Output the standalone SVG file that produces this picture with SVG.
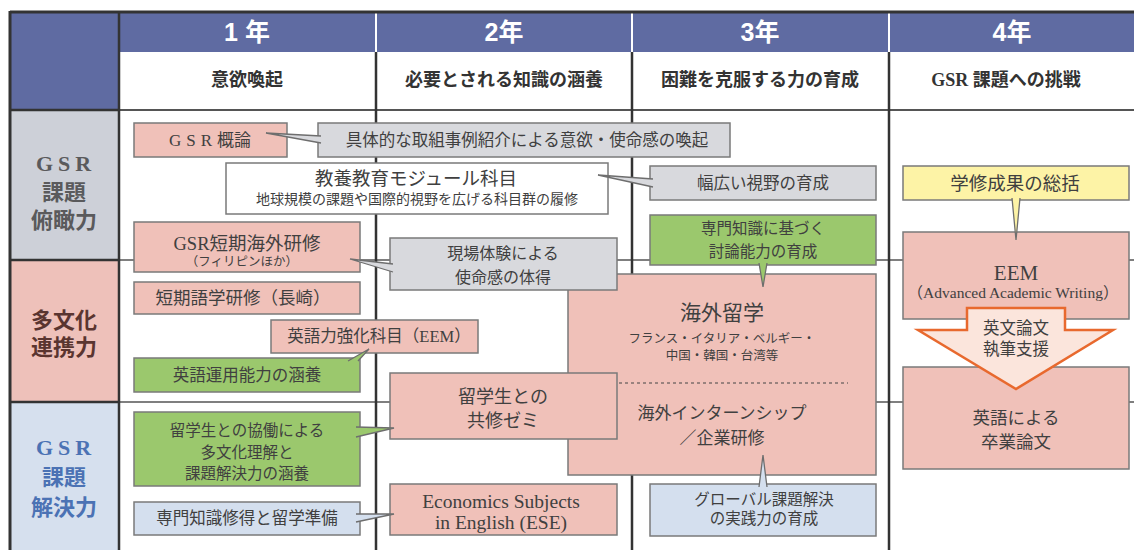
<svg xmlns="http://www.w3.org/2000/svg" width="1134" height="550" viewBox="0 0 1134 550">
<style>
.t{font-family:"Liberation Serif","Noto Sans CJK JP",serif;fill:#404040;text-anchor:middle}
.hd{font-family:"Liberation Sans","Noto Sans CJK JP",sans-serif;font-weight:bold;fill:#fff;text-anchor:middle;font-size:25px}
.sh{font-family:"Liberation Serif","Noto Sans CJK JP",serif;font-weight:bold;fill:#333;text-anchor:middle;font-size:18px}
.lb{font-family:"Liberation Serif","Noto Sans CJK JP",serif;font-weight:bold;text-anchor:middle;font-size:22px}
.bx{stroke:#7a7a7a;stroke-width:1.5}
.pk{fill:#f0c1b9}
.gy{fill:#d8d9dd}
.gr{fill:#9bc86d}
.lbu{fill:#d4dfee}
.yl{fill:#fdf3a6}
.wh{fill:#fff}
.wd{stroke:#6e6e6e;stroke-width:1.3;stroke-linejoin:miter}
.gl{stroke:#333;stroke-width:2.5}
.hl{stroke:#555;stroke-width:1.5}
</style>
<rect x="0" y="0" width="1134" height="550" fill="#fff"/>
<g id="grid">
<rect x="10" y="12" width="1124" height="40" fill="#5f6ba2"/>
<rect x="10" y="12" width="109" height="98" fill="#5f6ba2"/>
<rect x="10" y="110" width="109" height="150" fill="#cdd0d8"/>
<rect x="10" y="260" width="109" height="142" fill="#eec1ba"/>
<rect x="10" y="402" width="109" height="148" fill="#d6e0ee"/>
<line x1="119" y1="110" x2="1134" y2="110" stroke="#555" stroke-width="2"/>
<line x1="119" y1="260" x2="1134" y2="260" class="hl"/>
<line x1="119" y1="402" x2="1134" y2="402" class="hl"/>
<line x1="10" y1="110" x2="119" y2="110" stroke="#333" stroke-width="2.5"/>
<line x1="10" y1="260" x2="119" y2="260" stroke="#333" stroke-width="2.5"/>
<line x1="10" y1="402" x2="119" y2="402" stroke="#333" stroke-width="2.5"/>
<line x1="376" y1="12" x2="376" y2="52" stroke="#fff" stroke-width="2"/>
<line x1="632" y1="12" x2="632" y2="52" stroke="#fff" stroke-width="2"/>
<line x1="889" y1="12" x2="889" y2="52" stroke="#fff" stroke-width="2"/>
<line x1="376" y1="52" x2="376" y2="550" class="gl"/>
<line x1="632" y1="52" x2="632" y2="550" class="gl"/>
<line x1="889" y1="52" x2="889" y2="550" class="gl"/>
<line x1="119" y1="12" x2="119" y2="550" class="gl"/>
<line x1="10" y1="12" x2="1134" y2="12" stroke="#333" stroke-width="3"/>
<line x1="10" y1="11" x2="10" y2="550" stroke="#333" stroke-width="3"/>
<text class="hd" x="247" y="41">1 年</text>
<text class="hd" x="504" y="41">2年</text>
<text class="hd" x="760" y="41">3年</text>
<text class="hd" x="1012" y="41">4年</text>
<text class="sh" x="247" y="86">意欲喚起</text>
<text class="sh" x="504" y="86">必要とされる知識の涵養</text>
<text class="sh" x="760" y="86">困難を克服する力の育成</text>
<text class="sh" x="1006" y="86">GSR 課題への挑戦</text>
<text class="lb" fill="#5a5a5c" x="66" y="171" letter-spacing="5">GSR</text>
<text class="lb" fill="#5a5a5c" x="64" y="200">課題</text>
<text class="lb" fill="#5a5a5c" x="64" y="228">俯瞰力</text>
<text class="lb" fill="#5a3530" x="64" y="328">多文化</text>
<text class="lb" fill="#5a3530" x="64" y="355">連携力</text>
<text class="lb" fill="#4b72b4" x="66" y="455" letter-spacing="5">GSR</text>
<text class="lb" fill="#4b72b4" x="64" y="485">課題</text>
<text class="lb" fill="#4b72b4" x="64" y="515">解決力</text>
</g>
<g id="n-gaikai">
<rect class="bx pk" x="568" y="274" width="308" height="201"/>
<text class="t" x="722" y="320" font-size="21">海外留学</text>
<text class="t" x="722" y="343" font-size="12.5">フランス・イタリア・ベルギー・</text>
<text class="t" x="722" y="360" font-size="12.5">中国・韓国・台湾等</text>
<line x1="619" y1="383" x2="848" y2="383" stroke="#444" stroke-width="1" stroke-dasharray="3,3"/>
<text class="t" x="722" y="419" font-size="17">海外インターンシップ</text>
<text class="t" x="722" y="444" font-size="17">／企業研修</text>
</g>
<g id="n-gsrgairon">
<rect class="bx pk" x="134" y="123" width="153" height="34"/>
<text class="t" x="210" y="146" font-size="17"><tspan letter-spacing="5">GSR</tspan>概論</text>
</g>
<g id="n-gutai">
<rect class="bx gy" x="318" y="123" width="412" height="34"/>
<text class="t" x="527" y="146" font-size="16.5">具体的な取組事例紹介による意欲・使命感の喚起</text>
</g>
<g id="n-kyoyo">
<rect class="bx wh" x="226" y="163" width="382" height="51"/>
<text class="t" x="416" y="185" font-size="18.5">教養教育モジュール科目</text>
<text class="t" x="417" y="204" font-size="14">地球規模の課題や国際的視野を広げる科目群の履修</text>
</g>
<g id="n-habahiroi">
<rect class="bx gy" x="650" y="166" width="226" height="34"/>
<text class="t" x="763" y="189" font-size="16.5">幅広い視野の育成</text>
</g>
<g id="n-senmon-touron">
<rect class="bx gr" x="650" y="215" width="226" height="50"/>
<text class="t" x="763" y="234" font-size="15.5">専門知識に基づく</text>
<text class="t" x="763" y="257" font-size="15.5">討論能力の育成</text>
</g>
<g id="n-gsrtanki">
<rect class="bx pk" x="134" y="222" width="226" height="50"/>
<text class="t" x="247" y="250" font-size="18.5">GSR短期海外研修</text>
<text class="t" x="242" y="266" font-size="12.5">（フィリピンほか）</text>
</g>
<g id="n-genba">
<rect class="bx gy" x="390" y="238" width="227" height="52"/>
<text class="t" x="503" y="259" font-size="16">現場体験による</text>
<text class="t" x="503" y="283" font-size="16">使命感の体得</text>
</g>
<g id="n-tanki-gogaku">
<rect class="bx pk" x="134" y="282" width="226" height="32"/>
<text class="t" x="243" y="304" font-size="17.5">短期語学研修（長崎）</text>
</g>
<g id="n-eem1">
<rect class="bx pk" x="271" y="320" width="207" height="33"/>
<text class="t" x="379" y="342" font-size="16.5">英語力強化科目（EEM）</text>
</g>
<g id="n-eigo-unyo">
<rect class="bx gr" x="134" y="358" width="226" height="34"/>
<text class="t" x="247" y="381" font-size="16.5">英語運用能力の涵養</text>
</g>
<g id="n-zemi">
<rect class="bx pk" x="390" y="373" width="227" height="66"/>
<text class="t" x="503" y="403" font-size="18">留学生との</text>
<text class="t" x="503" y="427" font-size="18">共修ゼミ</text>
</g>
<g id="n-kyodo">
<rect class="bx gr" x="134" y="412" width="226" height="74"/>
<text class="t" x="247" y="436" font-size="15.5">留学生との協働による</text>
<text class="t" x="247" y="458" font-size="15.5">多文化理解と</text>
<text class="t" x="247" y="479" font-size="15.5">課題解決力の涵養</text>
</g>
<g id="n-senmon-shutoku">
<rect class="bx lbu" x="134" y="502" width="226" height="33"/>
<text class="t" x="247" y="524" font-size="16.5">専門知識修得と留学準備</text>
</g>
<g id="n-ese">
<rect class="bx pk" x="390" y="484" width="227" height="51"/>
<text class="t" x="501" y="508" font-size="19.5">Economics Subjects</text>
<text class="t" x="501" y="529" font-size="19.5">in English (ESE)</text>
</g>
<g id="n-global">
<rect class="bx lbu" x="650" y="484" width="226" height="52"/>
<text class="t" x="764" y="505" font-size="15.5">グローバル課題解決</text>
<text class="t" x="764" y="524" font-size="15.5">の実践力の育成</text>
</g>
<g id="n-gakushu">
<rect class="bx yl" x="903" y="166" width="226" height="34"/>
<text class="t" x="1015" y="190" font-size="18.5">学修成果の総括</text>
</g>
<g id="n-eem2">
<rect class="bx pk" x="903" y="232" width="226" height="87"/>
<text class="t" x="1016" y="280" font-size="21">EEM</text>
<text class="t" x="1013" y="298" font-size="15.5">（Advanced Academic Writing）</text>
</g>
<g id="n-sotsuron">
<rect class="bx pk" x="903" y="367" width="226" height="102"/>
<text class="t" x="1016" y="424" font-size="17.5">英語による</text>
<text class="t" x="1016" y="448" font-size="17.5">卒業論文</text>
</g>
<g id="connectors">
<path class="wd gy" d="M321 136 L266 133 L321 143"/>
<path class="wd gy" d="M653 179 L598 175 L653 187"/>
<path class="wd gy" d="M393 264 L350 259 L393 272"/>
<path class="wd gr" d="M348 361 L369 349 L358 361"/>
<path class="wd gr" d="M356 427 L394 428 L356 437"/>
<path class="wd lbu" d="M356 514 L394 514 L356 522"/>
<path class="wd gr" d="M759 263 L763 287 L767 263"/>
<path class="wd lbu" d="M759 487 L763 455 L767 487"/>
<path class="wd yl" d="M1012 198 L1016 240 L1020 198"/>
</g>
<g id="n-arrow">
<polygon points="967,308 1065,308 1065,330 1113,330 1016,389 918,330 967,330" fill="#fbe5dc" stroke="#e8692e" stroke-width="2.5" stroke-linejoin="miter"/>
<text class="t" x="1016" y="334" font-size="16.5">英文論文</text>
<text class="t" x="1016" y="355" font-size="16.5">執筆支援</text>
</g>
</svg>
